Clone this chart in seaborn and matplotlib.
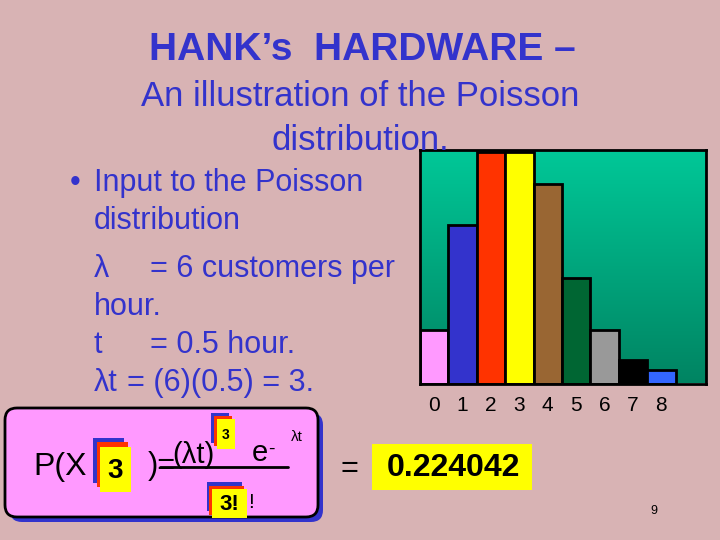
import numpy as np
import pandas as pd
import matplotlib
matplotlib.use("Agg")
import matplotlib.pyplot as plt
from matplotlib.patches import FancyBboxPatch, Rectangle
from matplotlib.colors import LinearSegmentedColormap
import seaborn as sns

# Poisson probabilities for lambda*t = 3
counts = ["0", "1", "2", "3", "4", "5", "6", "7", "8"]
probs = [0.052, 0.153, 0.224, 0.224, 0.193, 0.102, 0.052, 0.023, 0.013]
bar_colors = ["#ff99ff", "#3333cc", "#ff3300", "#ffff00", "#996633",
              "#006633", "#999999", "#000000", "#3366ff"]

title = "HANK’s  HARDWARE –"
subtitle = ["An illustration of the Poisson", "distribution."]
bullet_lines = ["Input to the Poisson", "distribution"]
result = "0.224042"
page_no = "9"

BG = "#d8b3b4"
BLUE = "#3333cc"
PINK = "#ff99ff"
YELLOW = "#ffff00"
RED = "#ff3300"

sns.set_theme(style="white")
plt.rcParams["font.family"] = ["Liberation Sans", "DejaVu Sans"]

fig = plt.figure(figsize=(7.2, 5.4), dpi=100)
fig.patch.set_facecolor(BG)

# bar chart panel
ax = fig.add_axes([420 / 720, 1 - 383.5 / 540, 286 / 720, 233.5 / 540])
df = pd.DataFrame({"k": counts, "p": probs})
sns.barplot(data=df, x="k", y="p", hue="k", palette=bar_colors, legend=False,
            width=1.0, saturation=1, edgecolor="black", linewidth=2,
            ax=ax, zorder=2)
grad = np.linspace(0, 1, 256).reshape(-1, 1)
cmap = LinearSegmentedColormap.from_list("teal", ["#00c898", "#008462"])
ax.imshow(grad, extent=(0, 1, 0, 1), transform=ax.transAxes, cmap=cmap,
          aspect="auto", zorder=0)
ax.set_xlim(-0.5, 9.57)
ax.set_ylim(0, 0.226)
ax.set_yticks([])
ax.set_xlabel("")
ax.set_ylabel("")
ax.tick_params(axis="x", length=0, pad=9, labelsize=15, colors="black")
for s in ax.spines.values():
    s.set_color("black")
    s.set_linewidth(2)

# overlay in pixel coordinates for the slide text and formula
ov = fig.add_axes([0, 0, 1, 1], zorder=5)
ov.set_xlim(0, 720)
ov.set_ylim(540, 0)
ov.axis("off")
ov.patch.set_alpha(0)

ov.text(362, 50, title, ha="center", va="center", fontsize=28,
        fontweight="bold", color=BLUE)
ov.text(360, 97, subtitle[0], ha="center", va="center", fontsize=25, color=BLUE)
ov.text(360, 140, subtitle[1], ha="center", va="center", fontsize=25, color=BLUE)

tkw = dict(fontsize=22, color=BLUE, va="baseline")
ov.text(70, 191, "•", **tkw)
ov.text(94, 191, bullet_lines[0], **tkw)
ov.text(94, 229, bullet_lines[1], **tkw)
ov.text(94, 277, "λ", **tkw)
ov.text(150, 277, "= 6 customers per", **tkw)
ov.text(94, 315, "hour.", **tkw)
ov.text(94, 353, "t", **tkw)
ov.text(150, 353, "= 0.5 hour.", **tkw)
ov.text(94, 391, "λt", **tkw)
ov.text(127, 391, "= (6)(0.5) = 3.", **tkw)

# formula box with blue shadow
ov.add_patch(FancyBboxPatch((10, 413), 313, 109, boxstyle="round,pad=0,rounding_size=12",
                            fc=BLUE, ec="none", zorder=1))
ov.add_patch(FancyBboxPatch((5, 408), 313, 109, boxstyle="round,pad=0,rounding_size=12",
                            fc=PINK, ec="black", lw=2, zorder=2))


def stacked_box(x, y, w, h, blue_off, red_off, label, size):
    ov.add_patch(Rectangle((x + blue_off[0], y + blue_off[1]), w, h, fc=BLUE, ec="none", zorder=3))
    ov.add_patch(Rectangle((x + red_off[0], y + red_off[1]), w, h, fc=RED, ec="none", zorder=4))
    ov.add_patch(Rectangle((x, y), w, h, fc=YELLOW, ec="none", zorder=5))
    ov.text(x + w / 2, y + h / 2 + 1, label, ha="center", va="center", fontsize=size,
            fontweight="bold", color="black", zorder=6)


fkw = dict(color="black", va="center", zorder=6)
ov.text(33, 467, "P(X", fontsize=23, **fkw)
stacked_box(100, 447, 31, 45, (-7, -9), (-3, -5), "3", 20)
ov.text(148, 466, ")=", fontsize=22, **fkw)
ov.plot([160, 288], [467, 467], color="black", lw=2, zorder=6)
ov.text(172, 455, "(λt)", fontsize=21, **fkw)
stacked_box(217, 419, 18, 30, (-6, -6), (-3, -3), "3", 10)
ov.text(252, 453, "e", fontsize=21, **fkw)
ov.text(268, 449, "-", fontsize=14, **fkw)
ov.text(291, 437, "λt", fontsize=11, **fkw)
stacked_box(212, 489, 35, 29, (-5, -7), (-3, -3), "3!", 16)
ov.text(248, 502, "!", fontsize=15, **fkw)

ov.text(341, 469, "=", fontsize=22, **fkw)
ov.add_patch(Rectangle((372, 444), 160, 46, fc=YELLOW, ec="none", zorder=5))
ov.text(453, 468, result, ha="center", va="center", fontsize=23,
        fontweight="bold", color="black", zorder=6)
ov.text(654, 511, page_no, ha="center", va="center", fontsize=9, color="black")

fig.savefig("out.png", dpi=100, facecolor=fig.get_facecolor())
